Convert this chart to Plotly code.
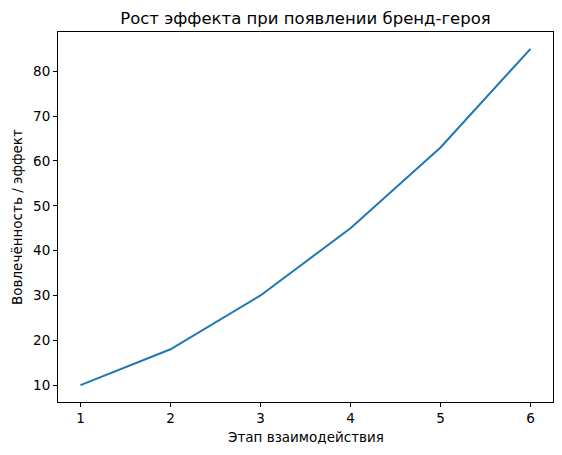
import plotly.graph_objects as go

# --------------------------- DATA ---------------------------
stages = [1, 2, 3, 4, 5, 6]
engagement = [10, 18, 30, 45, 63, 85]

x_ticks = [1, 2, 3, 4, 5, 6]
y_ticks = [10, 20, 30, 40, 50, 60, 70, 80]

FONT = "DejaVu Sans"

# page body has an 8px margin, so the figure is a bit smaller than the window
W, H = 554, 447
L, R, T, B = 50, 9, 24, 53

# --------------------------- FIGURE ---------------------------
fig = go.Figure()

fig.add_trace(
    go.Scatter(
        x=stages,
        y=engagement,
        mode="lines",
        line=dict(color="#1f77b4", width=2),
        showlegend=False,
    )
)

axis_style = dict(
    showgrid=False,
    zeroline=False,
    showline=True,
    linecolor="black",
    linewidth=1,
    mirror=True,
    ticks="outside",
    ticklen=4,
    tickwidth=1,
    tickcolor="black",
    automargin=False,
    tickfont=dict(family=FONT, size=13.5, color="black"),
)

label_font = dict(family=FONT, size=13.5, color="black")

fig.update_layout(
    width=W,
    height=H,
    margin=dict(l=L, r=R, t=T, b=B, autoexpand=False),
    paper_bgcolor="white",
    plot_bgcolor="white",
    title=dict(
        text="Рост эффекта при появлении бренд-героя",
        x=(L + W - R) / 2 / W,
        xanchor="center",
        y=1 - 10 / H,
        yanchor="middle",
        font=dict(family=FONT, size=16.5, color="black"),
    ),
    xaxis=dict(**axis_style, range=[0.75, 6.25], tickvals=x_ticks),
    yaxis=dict(**axis_style, range=[6.25, 88.75], tickvals=y_ticks),
    annotations=[
        dict(
            text="Этап взаимодействия",
            xref="paper", yref="paper", x=0.5, y=0,
            xanchor="center", yanchor="middle", yshift=-35,
            showarrow=False, font=label_font,
        ),
        dict(
            text="Вовлечённость / эффект",
            xref="paper", yref="paper", x=0, y=0.5,
            xanchor="center", yanchor="middle", xshift=-41,
            textangle=-90, showarrow=False, font=label_font,
        ),
    ],
)

fig.write_html("out.html")
